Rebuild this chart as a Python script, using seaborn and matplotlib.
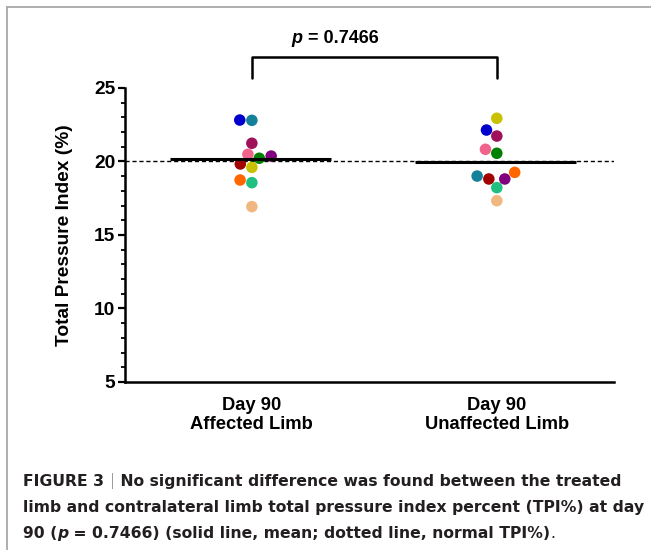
import pandas as pd
import seaborn as sns
import matplotlib.pyplot as plt
import numpy as np
from matplotlib.lines import Line2D
from matplotlib.ticker import MultipleLocator

# values (one colour per subject, same in both groups)
groups = ['Day 90\nAffected Limb', 'Day 90\nUnaffected Limb']
subjects = ['S1', 'S2', 'S3', 'S4', 'S5', 'S6', 'S7', 'S8', 'S9', 'S10', 'S11']
subject_colors = ['#0000cc', '#13819a', '#a0105a', '#f0648c', '#008000', '#800080',
                  '#c8c000', '#a00000', '#ff6600', '#20c080', '#f0b880']
affected = [22.82, 22.80, 21.24, 20.49, 20.22, 20.37, 19.60, 19.83, 18.74, 18.56, 16.93]
unaffected = [22.14, 19.01, 21.73, 20.83, 20.56, 18.81, 22.94, 18.81, 19.26, 18.22, 17.33]
normal_tpi = 20
p_text = '= 0.7466'
yticks = [5, 10, 15, 20, 25]

caption_1 = [('FIGURE 3 ', 'bold'), ('|', 'bar'), (' No significant difference was found between the treated', 'bold')]
caption_2 = 'limb and contralateral limb total pressure index percent (TPI%) at day'
caption_3 = [('90 (', 'bold'), ('p', 'italic'), (' = 0.7466) (solid line, mean; dotted line, normal TPI%)', 'bold'), ('.', 'normal')]

df = pd.DataFrame({
    'group': [groups[0]] * len(affected) + [groups[1]] * len(unaffected),
    'subject': subjects + subjects,
    'tpi': affected + unaffected,
})

sns.set_style('ticks')
plt.rcParams['font.family'] = ['Liberation Sans', 'DejaVu Sans']
for k in ['text.color', 'axes.labelcolor', 'xtick.color', 'ytick.color']:
    plt.rcParams[k] = 'black'

fig = plt.figure(figsize=(6.51, 5.5), dpi=100)
ax = fig.add_axes([0.192, 0.3055, 0.751, 0.5345])

sns.swarmplot(data=df, x='group', y='tpi', hue='subject', palette=subject_colors,
              order=groups, size=8.3, legend=False, ax=ax, zorder=2)

# mean lines and the normal TPI line
means = df.groupby('group')['tpi'].mean().reindex(groups).values
pos = np.arange(len(groups))
ax.hlines(means, pos - 0.335, pos + 0.325, color='black', lw=2.2, zorder=3)
ax.axhline(normal_tpi, color='black', lw=1, ls=(0, (3, 2)), zorder=1)

ax.set_xlim(-0.518, 1.478)
ax.set_ylim(5, 25)
ax.set_yticks(yticks)
ax.yaxis.set_minor_locator(MultipleLocator(1))
ax.set_xlabel('')
ax.set_ylabel('Total Pressure Index (%)', fontsize=13.8, fontweight='bold', labelpad=15)
ax.tick_params(axis='y', which='major', length=5, width=1.6, labelsize=13.8, pad=2)
ax.tick_params(axis='y', which='minor', length=3, width=1.3)
ax.tick_params(axis='x', length=0, labelsize=13.2, pad=11)
for lab in ax.get_xticklabels() + ax.get_yticklabels():
    lab.set_fontweight('bold')
for lab in ax.get_xticklabels():
    lab.set_linespacing(1.12)
sns.despine(ax=ax)
for s in ['left', 'bottom']:
    ax.spines[s].set_linewidth(1.8)
    ax.spines[s].set_color('black')

# significance bracket
ax.plot([0, 0, 1, 1], [25.7, 27.1, 27.1, 25.7], color='black', lw=1.8, clip_on=False)
pt = ax.text(0.163, 28.35, 'p ', ha='left', va='center', fontsize=13,
             fontweight='bold', fontstyle='italic', transform=ax.transData)
ax.annotate(p_text, xy=(1, 0), xycoords=pt, va='bottom', ha='left',
            fontsize=13, fontweight='bold')

# frame round the figure
fig.add_artist(Line2D([0.0115, 0.0115], [0, 0.988], transform=fig.transFigure, color='#a8a8a8', lw=1.3))
fig.add_artist(Line2D([0.0115, 1], [0.988, 0.988], transform=fig.transFigure, color='#a8a8a8', lw=1.3))

# caption
cap_font = ['DejaVu Sans']
def style(kind):
    base = dict(fontsize=11.25, color='#231f20', family=cap_font)
    if kind == 'bar':
        base.update(color='#777777', fontweight='light')
    elif kind == 'italic':
        base.update(fontweight='bold', fontstyle='italic')
    elif kind == 'bold':
        base.update(fontweight='bold')
    return base

def caption_line(x, y, parts):
    prev = fig.text(x, y, parts[0][0], va='baseline', ha='left', **style(parts[0][1]))
    for txt, kind in parts[1:]:
        prev = ax.annotate(txt, xy=(1, 0), xycoords=prev, va='bottom', ha='left',
                           annotation_clip=False, **style(kind))

caption_line(0.035, 0.1165, caption_1)
fig.text(0.035, 0.0693, caption_2, va='baseline', ha='left', **style('bold'))
caption_line(0.035, 0.022, caption_3)

fig.savefig('out.png', dpi=100)
